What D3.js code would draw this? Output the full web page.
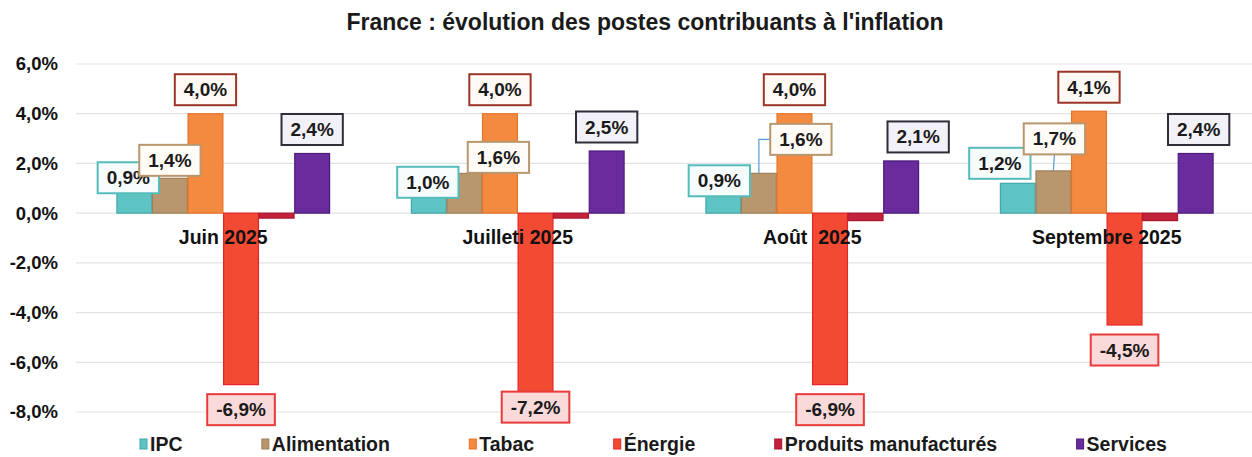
<!DOCTYPE html>
<html><head><meta charset="utf-8">
<script src="https://cdn.jsdelivr.net/npm/d3@7"></script>
<style>
html,body{margin:0;padding:0;background:#fff;}
svg{display:block;font-family:"Liberation Sans",Arial,sans-serif;}
</style></head>
<body>
<svg id="c" width="1252" height="457"></svg>
<script>
// ---------- data ----------
const title = "France : évolution des postes contribuants à l'inflation";
const categories = ["Juin 2025", "Juilleti 2025", "Août  2025", "Septembre 2025"];
const seriesNames = ["IPC", "Alimentation", "Tabac", "Énergie", "Produits manufacturés", "Services"];
const ipc          = [0.9, 1.0, 0.9, 1.2];
const alimentation = [1.4, 1.6, 1.6, 1.7];
const tabac        = [4.0, 4.0, 4.0, 4.1];
const energie      = [-6.9, -7.2, -6.9, -4.5];
const produits     = [-0.2, -0.2, -0.3, -0.3];
const services     = [2.4, 2.5, 2.1, 2.4];
const yTicks = [-8, -6, -4, -2, 0, 2, 4, 6];
const labelled = [true, true, true, true, false, true];

// ---------- styles / layout ----------
const values = [ipc, alimentation, tabac, energie, produits, services];
const fills   = ["#5ec3c3", "#b8976f", "#f48a3f", "#f34a33", "#c4213a", "#6a2c9c"];
const strokes = ["#3fa9a9", "#9f7e58", "#e57328", "#e5242a", "#a81630", "#4d1a7c"];
const boxFill   = ["#f6fcfc", "#fffbf6", "#fff9f6", "#f9d9d9", null, "#f3f1f8"];
const boxStroke = ["#55bcbc", "#b8976f", "#9a3528", "#ea3a3a", null, "#2e2e3a"];
// manual label nudges (dx, dy) like the original's hand-placed labels
const nudge = {
  "0-0": [-6, 11], "1-0": [0, 6],
  "0-1": [-1, 18], "1-1": [34, 8], "3-1": [0, -10],
  "0-2": [-4, 14], "1-2": [42, -10], "5-2": [17, 0],
  "0-3": [-18, 4], "1-3": [1, -8], "5-3": [3, 0]
};
const leaders = {"1-2": "elbow", "1-3": "down"};

const W = 1252, H = 457;
const svg = d3.select("#c");
const fmt = v => d3.format(".1f")(v).replace(".", ",").replace("\u2212", "-") + "%";

const y = d3.scaleLinear().domain([-8, 6]).range([412, 64]);
const x0 = d3.scaleBand().domain(categories).range([76, 1254]).paddingInner(0.273).paddingOuter(0.1365);
const x1 = d3.scaleBand().domain(d3.range(seriesNames.length)).range([0, x0.bandwidth()]).padding(0.02);

// gridlines
svg.append("g").selectAll("line").data(yTicks).join("line")
  .attr("x1", 76).attr("x2", W).attr("y1", d => y(d)).attr("y2", d => y(d))
  .attr("stroke", "#e3e3e3").attr("stroke-width", 1.2);

// y axis labels
const yAxis = d3.axisLeft(y).tickValues(yTicks).tickSize(0).tickPadding(0).tickFormat(fmt);
const ga = svg.append("g").attr("transform", "translate(58,0)").call(yAxis);
ga.select(".domain").remove();
ga.selectAll("text").attr("font-size", 18.5).attr("font-weight", "bold").attr("fill", "#111")
  .attr("font-family", "Liberation Sans, Arial, sans-serif");

// bars
const groups = svg.append("g").selectAll("g").data(categories).join("g")
  .attr("transform", d => `translate(${x0(d)},0)`);
groups.each(function(cat, ci) {
  d3.select(this).selectAll("rect").data(seriesNames.map((s, si) => ({si, v: values[si][ci]})))
    .join("rect")
    .attr("x", d => x1(d.si)).attr("width", x1.bandwidth())
    .attr("y", d => y(Math.max(0, d.v))).attr("height", d => Math.abs(y(d.v) - y(0)))
    .attr("fill", d => fills[d.si]).attr("stroke", d => strokes[d.si]).attr("stroke-width", 1.2);
});

// category labels (over bars)
svg.append("g").selectAll("text").data(categories).join("text")
  .attr("x", d => x0(d) + x0.bandwidth() / 2).attr("y", 244)
  .attr("text-anchor", "middle").attr("font-size", 19.5).attr("font-weight", "bold").attr("fill", "#111")
  .style("white-space", "pre").text(d => d);

// data labels
const lab = svg.append("g");
categories.forEach((cat, ci) => {
  seriesNames.forEach((s, si) => {
    if (!labelled[si]) return;
    const v = values[si][ci];
    const bx = x0(cat) + x1(si) + x1.bandwidth() / 2;
    const end = y(v);
    const key = si + "-" + ci;
    const [dx, dy] = nudge[key] || [0, 0];
    const cx = bx + dx;
    const cy = (v >= 0 ? end - 24 : end + 25) + dy;
    const g = lab.append("g");
    const t = g.append("text").attr("x", cx).attr("y", cy + 6.5).attr("text-anchor", "middle")
      .attr("font-size", 19).attr("font-weight", "bold").attr("fill", "#1a1a1a").text(fmt(v));
    const tw = t.node().getComputedTextLength();
    const bw = tw + 18, bh = 31;
    if (leaders[key]) {
      let path;
      if (leaders[key] === "elbow") path = `M${cx - bw / 2},${cy} H${bx} V${end}`;
      else path = `M${cx},${cy + bh / 2} L${bx},${end}`;
      lab.insert("path", ":first-child").attr("d", path).attr("fill", "none")
        .attr("stroke", "#5b9bd5").attr("stroke-width", 1.2);
    }
    g.insert("rect", "text").attr("x", cx - bw / 2).attr("y", cy - bh / 2).attr("width", bw).attr("height", bh)
      .attr("fill", boxFill[si]).attr("stroke", boxStroke[si]).attr("stroke-width", 2);
  });
});

// title
svg.append("text").attr("x", 645).attr("y", 30).attr("text-anchor", "middle")
  .attr("font-size", 23).attr("font-weight", "bold").attr("fill", "#1a1a1a").text(title);

// legend: evenly spaced entries between left and right limits
const legLeft = 140, legRight = 1167;
const leg = svg.append("g").selectAll("g").data(seriesNames).join("g");
leg.append("rect").attr("x", 0).attr("y", -5).attr("width", 7).attr("height", 10)
  .attr("fill", (d, i) => fills[i]).attr("stroke", (d, i) => strokes[i]).attr("stroke-width", 1);
leg.append("text").attr("x", 10).attr("y", 7).attr("font-size", 19.5).attr("font-weight", "bold")
  .attr("fill", "#1a1a1a").text(d => d);
const widths = [];
leg.each(function() { widths.push(this.getBBox().width); });
const gap = (legRight - legLeft - d3.sum(widths)) / (seriesNames.length - 1);
let pos = legLeft;
leg.each(function(d, i) {
  d3.select(this).attr("transform", `translate(${pos},444)`);
  pos += widths[i] + gap;
});
</script>
</body></html>
